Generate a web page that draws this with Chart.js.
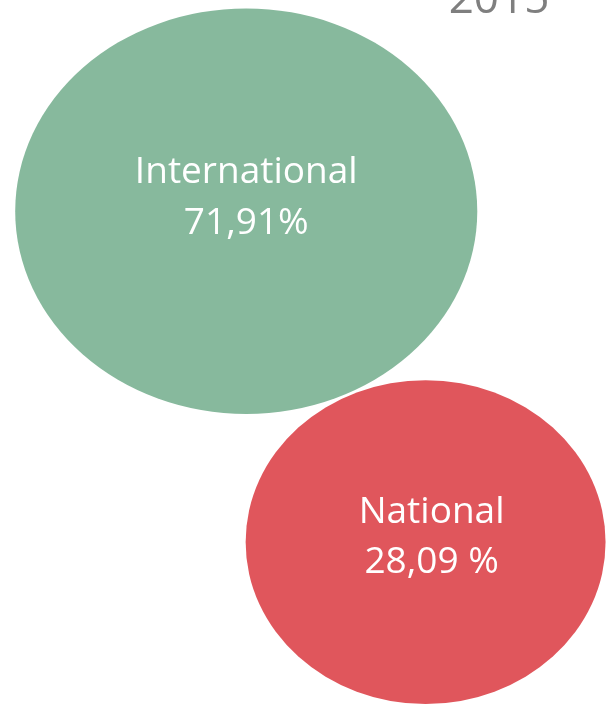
<!DOCTYPE html>
<html>
<head>
<meta charset="utf-8">
<script src="https://cdn.jsdelivr.net/npm/chart.js@4"></script>
<style>
  html, body { margin: 0; padding: 0; background: #ffffff; }
  #wrap { width: 608px; height: 704px; position: relative; }
</style>
</head>
<body>
<div id="wrap"><canvas id="c" width="608" height="704"></canvas></div>
<script>
// ---- data ----
const chartTitle = '2015';
const categories = ['International', 'National'];
const valueLabels = ['71,91%', '28,09 %'];
const xValues = [40.5, 70];
const yValues = [70, 23];
const radiusX = [38, 29.6];
const radiusY = [28.8, 23];
const colors = ['#87B99D', '#E0565C'];

const points = categories.map((c, i) => ({ x: xValues[i], y: yValues[i], rx: radiusX[i], ry: radiusY[i] }));

const ellipsePlugin = {
  id: 'ellipses',
  afterDatasetsDraw(chart, args, opts) {
    const ctx = chart.ctx;
    const xs = chart.scales.x, ys = chart.scales.y;
    const meta = chart.getDatasetMeta(0);
    meta.data.forEach((el, i) => {
      const p = points[i];
      const cx = el.x, cy = el.y;
      const rxPx = Math.abs(xs.getPixelForValue(p.x + p.rx) - cx);
      const ryPx = Math.abs(ys.getPixelForValue(p.y + p.ry) - cy);
      ctx.save();
      ctx.beginPath();
      ctx.ellipse(cx, cy, rxPx, ryPx, 0, 0, Math.PI * 2);
      ctx.fillStyle = colors[i];
      ctx.fill();
      ctx.restore();
    });
    // labels
    meta.data.forEach((el, i) => {
      const off = opts.labelOffsets[i];
      ctx.save();
      ctx.fillStyle = '#ffffff';
      ctx.font = opts.font;
      ctx.textAlign = 'center';
      ctx.textBaseline = 'alphabetic';
      ctx.fillText(categories[i], el.x + off[0], el.y + off[1]);
      ctx.fillText(valueLabels[i], el.x + off[0], el.y + off[2]);
      ctx.restore();
    });
    // title
    ctx.save();
    ctx.fillStyle = '#7F7F7F';
    ctx.font = opts.titleFont;
    ctx.textAlign = 'center';
    ctx.textBaseline = 'alphabetic';
    ctx.fillText(chartTitle, opts.titleX, opts.titleY);
    ctx.restore();
  }
};

new Chart(document.getElementById('c'), {
  type: 'scatter',
  data: {
    datasets: [{
      data: points,
      pointRadius: 0,
      pointHoverRadius: 0,
      backgroundColor: colors
    }]
  },
  options: {
    responsive: false,
    animation: false,
    layout: { padding: 0 },
    scales: {
      x: { display: false, min: 0, max: 100 },
      y: { display: false, min: 0, max: 100 }
    },
    plugins: {
      legend: { display: false },
      title: { display: false },
      tooltip: { enabled: false },
      ellipses: {
        font: '37px "Open Sans", sans-serif',
        titleFont: '44px "Open Sans", sans-serif',
        titleX: 499,
        titleY: 13,
        labelOffsets: [[0, -28, 23], [6, -19.5, 30.5]]
      }
    }
  },
  plugins: [ellipsePlugin]
});
</script>
</body>
</html>
